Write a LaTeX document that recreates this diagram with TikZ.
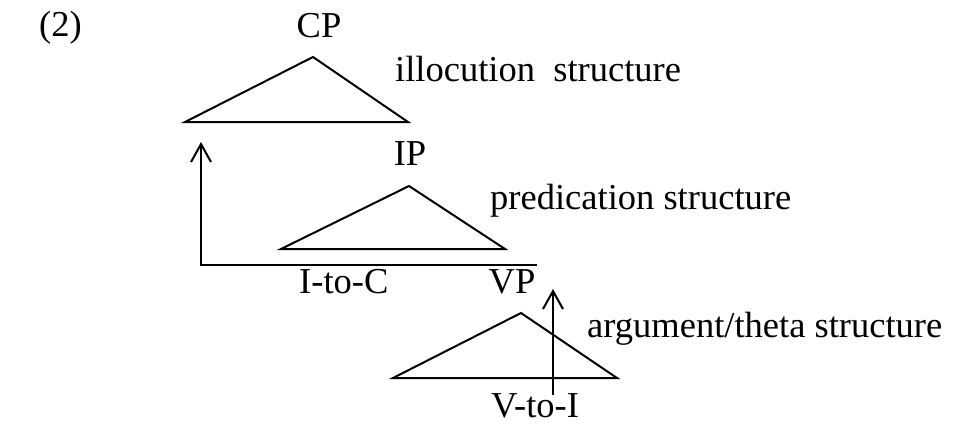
\documentclass[tikz,border=0pt]{standalone}
\usepackage{fontspec}
\setmainfont{Liberation Serif}
\usetikzlibrary{arrows.meta, positioning}

\begin{document}
\begin{tikzpicture}[x=1pt, y=-1pt,
    catlab/.style={font=\fontsize{36.5}{40}\selectfont, inner sep=0pt, anchor=base},
    strlab/.style={catlab, anchor=base west},
    tri/.style={draw, line width=2pt},
    move/.style={-{Straight Barb[length=18pt, width=20pt]}, line width=2pt},
]
  \useasboundingbox (0,0) rectangle (953,423);

  \node[strlab] (ex) at (39,36) {(2)};

  % the three layers
  \node[catlab] (cp) at (319,37) {CP};
  \draw[tri] (185,122) -- (313,57) -- (408,122) -- cycle;
  \node[strlab] (illoc) at (395,81) {illocution~ structure};

  \node[catlab] (ip) at (410,165) {IP};
  \draw[tri] (281,249) -- (409,186) -- (505,249) -- cycle;
  \node[strlab] (pred) at (490,209) {predication structure};

  \node[catlab] (vp) at (512,293) {VP};
  \draw[tri] (393,378) -- (521,313) -- (617,378) -- cycle;
  \node[strlab] (arg) at (587,337) {argument/theta structure};

  % head movement
  \coordinate (icend) at (537,265);
  \coordinate (iccorner) at (201,265);
  \coordinate (ictip) at (201,142);
  \draw[move] (icend) -- (iccorner) -- (ictip);
  \node[strlab] (itoc) at (299,293) {I-to-C};

  \coordinate (vifoot) at (553,395);
  \coordinate (vitip) at (553,289);
  \draw[move] (vifoot) -- (vitip);
  \node[catlab] (vtoi) at (535,417) {V-to-I};
\end{tikzpicture}
\end{document}
